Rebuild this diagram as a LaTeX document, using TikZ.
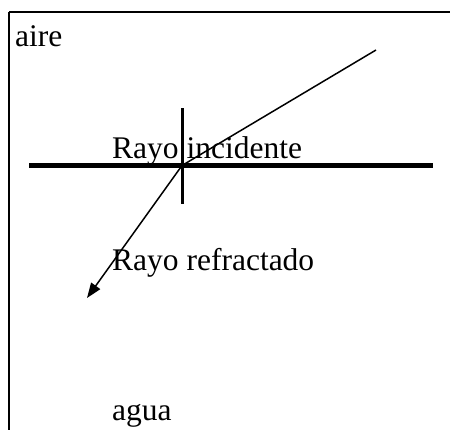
\documentclass[tikz,border=0pt]{standalone}
\usepackage{fontspec}
\setmainfont{Liberation Serif}
\usetikzlibrary{arrows.meta}
\begin{document}
\begin{tikzpicture}[x=1bp,y=1bp,
  lbl/.style={inner sep=0pt,anchor=base west,font=\fontsize{31.5bp}{36bp}\selectfont},
  thinline/.style={line width=1.5bp}]
\useasboundingbox (0,0) rectangle (450,430);
\fill[white] (0,0) rectangle (450,430);
% frame (top and left edges visible)
\coordinate (ftr) at (450,418);
\coordinate (ftl) at (9,418);
\coordinate (fbl) at (9,0);
\draw[line width=2.2bp] (ftl) -- (ftr);
\draw[line width=2.2bp] (ftl) -- (fbl);
% interface and normal
\coordinate (hl) at (29,264.5);
\coordinate (hr) at (433,264.5);
\coordinate (vt) at (182,322);
\coordinate (vb) at (182,226);
\coordinate (o) at (182,264.5);
\coordinate (inc) at (376,380);
\coordinate (ref) at (87,132);
\draw[line width=5.2bp] (hl) -- (hr);
\draw[line width=3bp] (vt) -- (vb);
\draw[thinline] (inc) -- (o);
\draw[thinline,-{Triangle[length=15bp,width=11bp]}] (o) -- (ref);
% labels
\node[lbl] (aire) at (15,384) {aire};
\node[lbl] (rinc) at (112,272) {Rayo incidente};
\node[lbl] (rref) at (112,160) {Rayo refractado};
\node[lbl] (agua) at (112,9.5) {agua};
\end{tikzpicture}
\end{document}
